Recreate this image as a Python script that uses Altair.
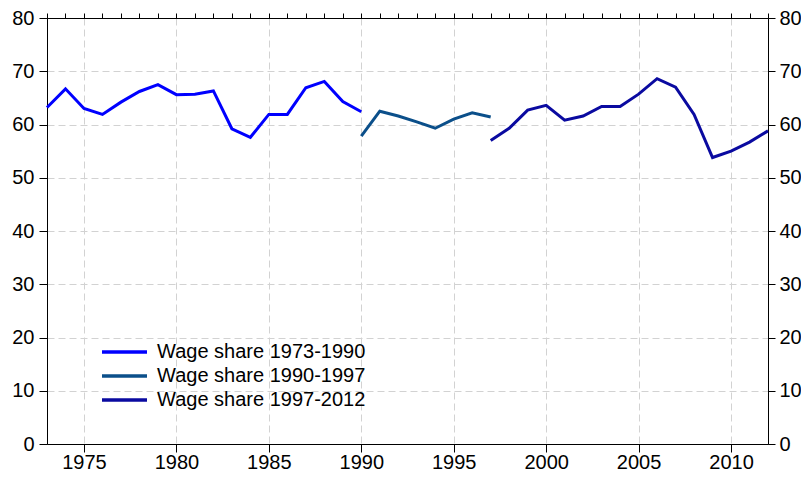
import altair as alt
import pandas as pd

years1 = list(range(1973, 1991))
vals1 = [63.2, 66.7, 63.0, 61.9, 64.2, 66.2, 67.5, 65.6, 65.7, 66.3,
         59.2, 57.6, 61.9, 61.9, 66.9, 68.1, 64.3, 62.4]
years2 = list(range(1990, 1998))
vals2 = [57.8, 62.5, 61.6, 60.5, 59.3, 61.0, 62.2, 61.4]
years3 = list(range(1997, 2013))
vals3 = [57.0, 59.3, 62.7, 63.6, 60.8, 61.6, 63.4, 63.4, 65.7, 68.6,
         67.0, 61.9, 53.8, 55.0, 56.7, 58.8]

names = ["Wage share 1973-1990", "Wage share 1990-1997", "Wage share 1997-2012"]
colors = ["#0000FF", "#0B4F8A", "#0A0AA0"]
major_years = [1975, 1980, 1985, 1990, 1995, 2000, 2005, 2010]
all_years = list(range(1973, 2013))
y_ticks = [0, 10, 20, 30, 40, 50, 60, 70, 80]

rows = []
for name, ys, vs in zip(names, [years1, years2, years3], [vals1, vals2, vals3]):
    for y, v in zip(ys, vs):
        rows.append({"year": y, "value": v, "series": name})
df = pd.DataFrame(rows)

FONT = "Liberation Sans"
FS = 20

xscale = alt.Scale(domain=[1973, 2012], nice=False, zero=False)
yscale = alt.Scale(domain=[0, 80], nice=False)

lines = alt.Chart(df).mark_line(strokeWidth=3).encode(
    x=alt.X("year:Q", scale=xscale, title=None,
            axis=alt.Axis(values=major_years, format="d", tickSize=8,
                          labelPadding=0, grid=True, gridDash=[7, 4],
                          gridColor="#d2d2d2", labelFontSize=FS, labelFont=FONT,
                          labelColor="#000000", domainColor="#000000",
                          tickColor="#000000", labelFlush=False)),
    y=alt.Y("value:Q", scale=yscale, title=None,
            axis=alt.Axis(orient="left", values=y_ticks, tickSize=8, labelPadding=5,
                          grid=True, gridDash=[7, 4], gridColor="#d2d2d2",
                          labelFontSize=FS, labelFont=FONT, labelColor="#000000",
                          domainColor="#000000", tickColor="#000000")),
    color=alt.Color("series:N",
                    scale=alt.Scale(domain=names, range=colors),
                    legend=alt.Legend(title=None, orient="none", legendX=53, legendY=324,
                                      symbolType="stroke", symbolSize=2025,
                                      symbolStrokeWidth=3.5, clipHeight=20,
                                      rowPadding=4, labelOffset=8, padding=0,
                                      labelFontSize=FS, labelFont=FONT,
                                      labelColor="#000000", labelLimit=400)),
    detail="series:N",
)

aux = alt.Chart(df).mark_point(opacity=0).encode(
    x=alt.X("year:Q", scale=xscale, title=None,
            axis=alt.Axis(values=all_years, labels=False, tickSize=5, grid=False,
                          domainColor="#000000", tickColor="#000000")),
    y=alt.Y("value:Q", scale=yscale, title=None,
            axis=alt.Axis(orient="right", values=y_ticks, tickSize=7, labelPadding=4,
                          grid=False, labelFontSize=FS, labelFont=FONT,
                          labelColor="#000000", domainColor="#000000",
                          tickColor="#000000")),
)

chart = alt.layer(lines, aux).resolve_axis(x="independent", y="independent").properties(
    width=721, height=426,
    autosize=alt.AutoSizeParams(type="none"),
    padding={"left": 39, "top": 10, "right": 33, "bottom": 32},
).configure_view(stroke="#000000", strokeWidth=1).configure_axis(
    domainWidth=1, tickWidth=1
)

chart.save("out.html", embed_options={"renderer": "svg", "actions": False})
